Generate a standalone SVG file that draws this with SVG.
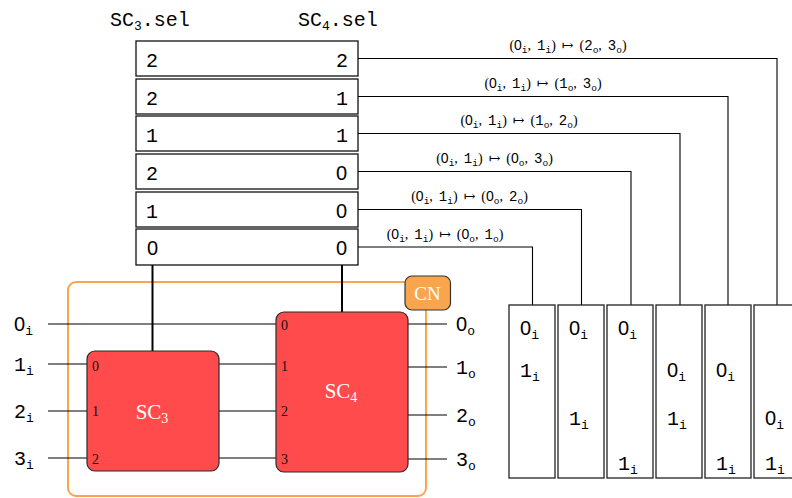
<svg xmlns="http://www.w3.org/2000/svg" width="792" height="498" viewBox="0 0 792 498">
  <style>
    .mono { font-family: "Liberation Mono", "DejaVu Sans Mono", monospace; fill: #000; }
    .z { font-family: "Liberation Sans", "Noto Sans", sans-serif; }
    .big { font-size: 20px; }
    .sub { font-size: 13px; }
    .row { fill: #fff; stroke: #111; stroke-width: 1.3; }
    .wire { stroke: #000; stroke-width: 1.2; fill: none; }
    .ctrl { stroke: #000; stroke-width: 2; fill: none; }
    .link { stroke: #000; stroke-width: 1.1; fill: none; }
    .col { fill: #fff; stroke: #222; stroke-width: 1.3; }
    .sc { fill: #ff4b4b; stroke: #2a2a2a; stroke-width: 1.2; }
    .sclabel { font-family: "Liberation Serif", "DejaVu Serif", serif; font-size: 21px; fill: #fff; }
    .port { font-family: "Liberation Serif", "DejaVu Serif", serif; font-size: 14px; fill: #111; }
    .map { font-size: 14px; fill: #000; word-spacing: 2.5px; }
    .mapd { font-family: "Liberation Mono", "DejaVu Sans Mono", monospace; }
    .mapz { font-family: "Liberation Sans", "Noto Sans", sans-serif; }
    .maps { font-family: "Liberation Mono", "DejaVu Sans Mono", monospace; font-size: 9.5px; }
    .mapp { font-family: "Liberation Serif", "DejaVu Serif", serif; }
  </style>

  <!-- selector table headers -->
  <g id="headers">
    <text class="mono big" x="110" y="26">SC<tspan class="sub" dy="4">3</tspan><tspan dy="-4">.sel</tspan></text>
    <text class="mono big" x="298" y="26">SC<tspan class="sub" dy="4">4</tspan><tspan dy="-4">.sel</tspan></text>
  </g>

  <!-- selector table rows -->
  <g id="table">
    <g id="row1"><rect class="row" x="136" y="41" width="222" height="35"/><text class="mono big" x="146" y="66.5">2</text><text class="mono big" x="348" y="66.5" text-anchor="end">2</text></g>
    <g id="row2"><rect class="row" x="136" y="79" width="222" height="35"/><text class="mono big" x="146" y="104.5">2</text><text class="mono big" x="348" y="104.5" text-anchor="end">1</text></g>
    <g id="row3"><rect class="row" x="136" y="116" width="222" height="35"/><text class="mono big" x="146" y="141.5">1</text><text class="mono big" x="348" y="141.5" text-anchor="end">1</text></g>
    <g id="row4"><rect class="row" x="136" y="154" width="222" height="35"/><text class="mono big" x="146" y="179.5">2</text><text class="mono big z" x="347" y="179.5" text-anchor="end">0</text></g>
    <g id="row5"><rect class="row" x="136" y="192" width="222" height="35"/><text class="mono big" x="146" y="217.5">1</text><text class="mono big z" x="347" y="217.5" text-anchor="end">0</text></g>
    <g id="row6"><rect class="row" x="136" y="229" width="222" height="36"/><text class="mono big z" x="147" y="255">0</text><text class="mono big z" x="347" y="255" text-anchor="end">0</text></g>
  </g>

  <!-- CN frame -->
  <rect id="cn-frame" x="68" y="282" width="358" height="214" rx="8" fill="none" stroke="#f9a54d" stroke-width="2"/>

  <!-- connectors -->
  <g id="connectors">
    <!-- input wires -->
    <path class="wire" d="M48 324H276"/>
    <path class="wire" d="M48 364H87M219 364H276"/>
    <path class="wire" d="M48 411H87M219 411H276"/>
    <path class="wire" d="M48 458H87M219 458H276"/>
    <!-- output wires -->
    <path class="wire" d="M408 324H447"/>
    <path class="wire" d="M408 367H447"/>
    <path class="wire" d="M408 415H447"/>
    <path class="wire" d="M408 459H447"/>
    <!-- select lines -->
    <path class="ctrl" d="M152.5 265V351"/>
    <path class="ctrl" d="M342 265V312"/>
    <!-- table rows to mapping columns -->
    <path class="link" d="M358 58.5H777V305"/>
    <path class="link" d="M358 96.5H728V305"/>
    <path class="link" d="M358 133.5H680V305"/>
    <path class="link" d="M358 171.5H631V305"/>
    <path class="link" d="M358 209.5H581.5V305"/>
    <path class="link" d="M358 247H532.5V305"/>
  </g>

  <!-- mapping labels -->
  <g id="map-labels" class="map">
    <text x="568" y="50" text-anchor="middle"><tspan class="mapp">(</tspan><tspan class="mapz">0</tspan><tspan class="maps" dy="3">i</tspan><tspan class="mapp" dy="-3">, </tspan><tspan class="mapd">1</tspan><tspan class="maps" dy="3">i</tspan><tspan class="mapp" dy="-3">) ↦ (</tspan><tspan class="mapd">2</tspan><tspan class="maps" dy="3">o</tspan><tspan class="mapp" dy="-3">, </tspan><tspan class="mapd">3</tspan><tspan class="maps" dy="3">o</tspan><tspan class="mapp" dy="-3">)</tspan></text>
    <text x="543" y="88" text-anchor="middle"><tspan class="mapp">(</tspan><tspan class="mapz">0</tspan><tspan class="maps" dy="3">i</tspan><tspan class="mapp" dy="-3">, </tspan><tspan class="mapd">1</tspan><tspan class="maps" dy="3">i</tspan><tspan class="mapp" dy="-3">) ↦ (</tspan><tspan class="mapd">1</tspan><tspan class="maps" dy="3">o</tspan><tspan class="mapp" dy="-3">, </tspan><tspan class="mapd">3</tspan><tspan class="maps" dy="3">o</tspan><tspan class="mapp" dy="-3">)</tspan></text>
    <text x="519" y="125" text-anchor="middle"><tspan class="mapp">(</tspan><tspan class="mapz">0</tspan><tspan class="maps" dy="3">i</tspan><tspan class="mapp" dy="-3">, </tspan><tspan class="mapd">1</tspan><tspan class="maps" dy="3">i</tspan><tspan class="mapp" dy="-3">) ↦ (</tspan><tspan class="mapd">1</tspan><tspan class="maps" dy="3">o</tspan><tspan class="mapp" dy="-3">, </tspan><tspan class="mapd">2</tspan><tspan class="maps" dy="3">o</tspan><tspan class="mapp" dy="-3">)</tspan></text>
    <text x="494.5" y="163" text-anchor="middle"><tspan class="mapp">(</tspan><tspan class="mapz">0</tspan><tspan class="maps" dy="3">i</tspan><tspan class="mapp" dy="-3">, </tspan><tspan class="mapd">1</tspan><tspan class="maps" dy="3">i</tspan><tspan class="mapp" dy="-3">) ↦ (</tspan><tspan class="mapz">0</tspan><tspan class="maps" dy="3">o</tspan><tspan class="mapp" dy="-3">, </tspan><tspan class="mapd">3</tspan><tspan class="maps" dy="3">o</tspan><tspan class="mapp" dy="-3">)</tspan></text>
    <text x="469.5" y="201" text-anchor="middle"><tspan class="mapp">(</tspan><tspan class="mapz">0</tspan><tspan class="maps" dy="3">i</tspan><tspan class="mapp" dy="-3">, </tspan><tspan class="mapd">1</tspan><tspan class="maps" dy="3">i</tspan><tspan class="mapp" dy="-3">) ↦ (</tspan><tspan class="mapz">0</tspan><tspan class="maps" dy="3">o</tspan><tspan class="mapp" dy="-3">, </tspan><tspan class="mapd">2</tspan><tspan class="maps" dy="3">o</tspan><tspan class="mapp" dy="-3">)</tspan></text>
    <text x="445" y="238.5" text-anchor="middle"><tspan class="mapp">(</tspan><tspan class="mapz">0</tspan><tspan class="maps" dy="3">i</tspan><tspan class="mapp" dy="-3">, </tspan><tspan class="mapd">1</tspan><tspan class="maps" dy="3">i</tspan><tspan class="mapp" dy="-3">) ↦ (</tspan><tspan class="mapz">0</tspan><tspan class="maps" dy="3">o</tspan><tspan class="mapp" dy="-3">, </tspan><tspan class="mapd">1</tspan><tspan class="maps" dy="3">o</tspan><tspan class="mapp" dy="-3">)</tspan></text>
  </g>

  <!-- network input labels -->
  <g id="inputs">
    <text class="mono big" x="14" y="331"><tspan class="z">0</tspan><tspan class="sub" dy="4">i</tspan></text>
    <text class="mono big" x="14" y="371">1<tspan class="sub" dy="4">i</tspan></text>
    <text class="mono big" x="14" y="418">2<tspan class="sub" dy="4">i</tspan></text>
    <text class="mono big" x="14" y="465">3<tspan class="sub" dy="4">i</tspan></text>
  </g>

  <!-- network output labels -->
  <g id="outputs">
    <text class="mono big" x="456" y="331"><tspan class="z">0</tspan><tspan class="sub" dy="4">o</tspan></text>
    <text class="mono big" x="456" y="374">1<tspan class="sub" dy="4">o</tspan></text>
    <text class="mono big" x="456" y="422">2<tspan class="sub" dy="4">o</tspan></text>
    <text class="mono big" x="456" y="466">3<tspan class="sub" dy="4">o</tspan></text>
  </g>

  <!-- switch SC3 -->
  <g id="sc3">
    <rect class="sc" x="87" y="351" width="132" height="120" rx="8"/>
    <text class="port" x="92" y="371">0</text>
    <text class="port" x="92" y="416">1</text>
    <text class="port" x="92" y="464">2</text>
    <text class="sclabel" x="152" y="419" text-anchor="middle">SC<tspan font-size="14" dy="4">3</tspan></text>
  </g>

  <!-- switch SC4 -->
  <g id="sc4">
    <rect class="sc" x="276" y="312" width="132" height="160" rx="8"/>
    <text class="port" x="281" y="330">0</text>
    <text class="port" x="281" y="371">1</text>
    <text class="port" x="281" y="416">2</text>
    <text class="port" x="281" y="464">3</text>
    <text class="sclabel" x="341" y="398" text-anchor="middle">SC<tspan font-size="14" dy="4">4</tspan></text>
  </g>

  <!-- CN tag -->
  <g id="cn-tag">
    <rect x="405" y="276" width="45.5" height="34" rx="7" fill="#f9a54d" stroke="#333" stroke-width="1.2"/>
    <text x="427.5" y="300" text-anchor="middle" font-family="Liberation Serif, DejaVu Serif, serif" font-size="19" fill="#fff">CN</text>
  </g>

  <!-- mapping columns -->
  <g id="col1">
    <rect class="col" x="509" y="305" width="46" height="173"/>
    <text class="mono big" x="520" y="335"><tspan class="z">0</tspan><tspan class="sub" dy="4">i</tspan></text>
    <text class="mono big" x="520" y="377">1<tspan class="sub" dy="4">i</tspan></text>
  </g>
  <g id="col2">
    <rect class="col" x="558" y="305" width="46" height="173"/>
    <text class="mono big" x="569" y="335"><tspan class="z">0</tspan><tspan class="sub" dy="4">i</tspan></text>
    <text class="mono big" x="569" y="425">1<tspan class="sub" dy="4">i</tspan></text>
  </g>
  <g id="col3">
    <rect class="col" x="607" y="305" width="46" height="173"/>
    <text class="mono big" x="618" y="335"><tspan class="z">0</tspan><tspan class="sub" dy="4">i</tspan></text>
    <text class="mono big" x="618" y="470">1<tspan class="sub" dy="4">i</tspan></text>
  </g>
  <g id="col4">
    <rect class="col" x="656" y="305" width="46" height="173"/>
    <text class="mono big" x="667" y="377"><tspan class="z">0</tspan><tspan class="sub" dy="4">i</tspan></text>
    <text class="mono big" x="667" y="425">1<tspan class="sub" dy="4">i</tspan></text>
  </g>
  <g id="col5">
    <rect class="col" x="705" y="305" width="46" height="173"/>
    <text class="mono big" x="716" y="377"><tspan class="z">0</tspan><tspan class="sub" dy="4">i</tspan></text>
    <text class="mono big" x="716" y="470">1<tspan class="sub" dy="4">i</tspan></text>
  </g>
  <g id="col6">
    <rect class="col" x="754" y="305" width="46" height="173"/>
    <text class="mono big" x="765" y="425"><tspan class="z">0</tspan><tspan class="sub" dy="4">i</tspan></text>
    <text class="mono big" x="765" y="470">1<tspan class="sub" dy="4">i</tspan></text>
  </g>
</svg>
